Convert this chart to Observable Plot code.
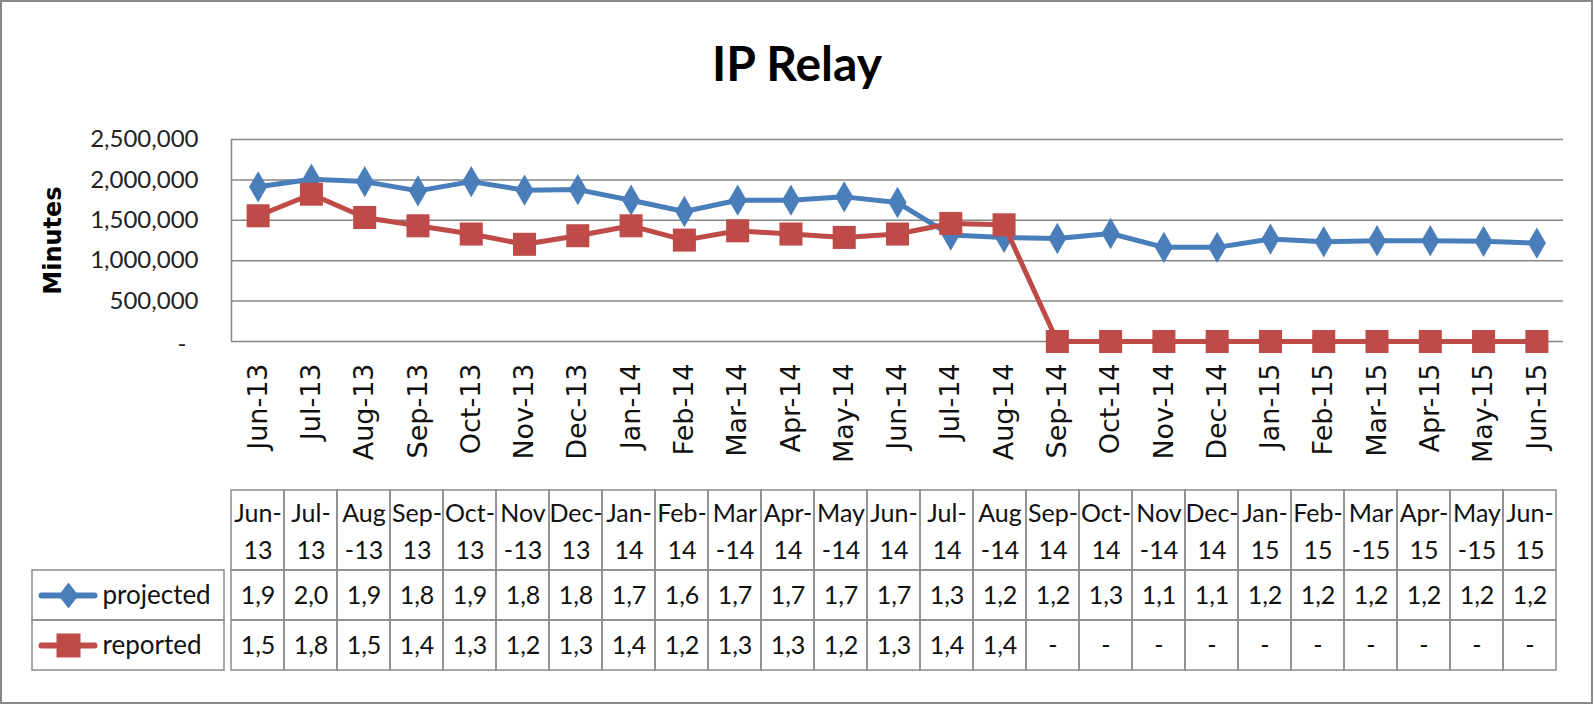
<!DOCTYPE html>
<html>
<head>
<meta charset="utf-8">
<script src="https://cdn.jsdelivr.net/npm/d3@7"></script>
<script src="https://cdn.jsdelivr.net/npm/@observablehq/plot@0.6"></script>
<style>
  body { margin: 0; background: #fff; }
  #root { position: relative; width: 1594px; height: 704px; overflow: hidden; background: #fff; }
  #frame { position: absolute; left: 0; top: 0; width: 1593px; height: 704px; box-sizing: border-box; border: 2.5px solid #888; pointer-events: none; }
  #title { position: absolute; left: 0; top: 39px; width: 1594px; text-align: center; font: bold 48px/48px Lato, sans-serif; color: #000; }
  #root svg { position: absolute; left: 0; }
</style>
</head>
<body>
<div id="root"><div id="frame"></div><div id="title">IP Relay</div></div>
<script>
// ---- data ----
const months = ["Jun-13","Jul-13","Aug-13","Sep-13","Oct-13","Nov-13","Dec-13","Jan-14","Feb-14","Mar-14","Apr-14","May-14","Jun-14","Jul-14","Aug-14","Sep-14","Oct-14","Nov-14","Dec-14","Jan-15","Feb-15","Mar-15","Apr-15","May-15","Jun-15"];
const headerLabels = ["Jun-\n13","Jul-\n13","Aug\n-13","Sep-\n13","Oct-\n13","Nov\n-13","Dec-\n13","Jan-\n14","Feb-\n14","Mar\n-14","Apr-\n14","May\n-14","Jun-\n14","Jul-\n14","Aug\n-14","Sep-\n14","Oct-\n14","Nov\n-14","Dec-\n14","Jan-\n15","Feb-\n15","Mar\n-15","Apr-\n15","May\n-15","Jun-\n15"];
const projected = [1914000, 2009000, 1979000, 1864000, 1979000, 1873000, 1880000, 1749000, 1609000, 1749000, 1749000, 1790000, 1720000, 1317000, 1288000, 1275000, 1337000, 1165000, 1165000, 1268000, 1235000, 1247000, 1247000, 1240000, 1218000];
const reported = [1556000, 1823000, 1535000, 1432000, 1330000, 1203000, 1309000, 1432000, 1255000, 1370000, 1330000, 1288000, 1330000, 1461000, 1444000, 0, 0, 0, 0, 0, 0, 0, 0, 0, 0];
const seriesNames = ["projected", "reported"];
const seriesColors = ["#4A7EBB", "#BE4B48"];
const yTicks = [0, 500000, 1000000, 1500000, 2000000, 2500000];
const yTitle = "Minutes";

// ---- derived tables ----
const projRows = projected.map((v, i) => ({i, v}));
const repRows = reported.map((v, i) => ({i, v}));
const cellText = v => v === 0 ? "-" : d3.format(",")(v).slice(0, 3);
const valueCells = [];
[projected, reported].forEach((arr, s) => arr.forEach((v, i) => valueCells.push({month: months[i], series: seriesNames[s], label: cellText(v)})));

const GRID = "#868686";
const TBL = "#8c8c8c";
const root = document.getElementById("root");

// ---- chart ----
const chart = Plot.plot({
  width: 1594, height: 480,
  marginLeft: 231, marginRight: 31, marginTop: 139, marginBottom: 139,
  style: {background: "transparent", overflow: "visible"},
  x: {domain: [-0.5, months.length - 0.5]},
  y: {domain: [0, 2500000]},
  marks: [
    Plot.ruleY(yTicks, {stroke: GRID, strokeWidth: 1.5}),
    Plot.ruleX([-0.5], {stroke: GRID, strokeWidth: 1.5}),
    Plot.axisY(yTicks.filter(d => d !== 0), {tickSize: 0, tickPadding: 33, tickFormat: d3.format(","), fontSize: 24, fontFamily: "Lato", fill: "#222", label: null}),
    Plot.axisY([0], {tickSize: 0, tickPadding: 45, tickFormat: () => "-", fontSize: 24, fontFamily: "Lato", fill: "#222", dy: 3, label: null}),
    Plot.axisX(d3.range(months.length), {tickSize: 0, tickPadding: 22, tickFormat: i => months[i], rotate: -90, textAnchor: "end", lineAnchor: "middle", fontSize: 27, fontFamily: "DejaVu Sans", fill: "#111", label: null}),
    Plot.text([yTitle], {frameAnchor: "left", dx: -178, rotate: -90, textAnchor: "middle", lineAnchor: "middle", fontSize: 24, fontWeight: "bold", fontFamily: "DejaVu Sans", fill: "#000"}),
    Plot.line(projRows, {x: "i", y: "v", stroke: seriesColors[0], strokeWidth: 5}),
    Plot.dot(projRows, {x: "i", y: "v", symbol: "diamond", r: 9.5, fill: seriesColors[0]}),
    Plot.line(repRows, {x: "i", y: "v", stroke: seriesColors[1], strokeWidth: 5}),
    Plot.dot(repRows, {x: "i", y: "v", symbol: "square", r: 13, fill: seriesColors[1]})
  ]
});
chart.style.top = "0px";
root.append(chart);

// ---- data table ----
const rowKeys = ["header", ...seriesNames];
const table = Plot.plot({
  width: 1594, height: 230,
  marginLeft: 224, marginRight: 31, marginTop: 49, marginBottom: 30,
  style: {background: "transparent"},
  x: {type: "band", domain: months, padding: 0, axis: null},
  y: {type: "band", domain: rowKeys, padding: 0, axis: null},
  marks: [
    Plot.cell(months, {x: d => d, y: () => "header", insetTop: -30, stroke: TBL, strokeWidth: 1.5, fill: "none"}),
    Plot.cell(valueCells, {x: "month", y: "series", stroke: TBL, strokeWidth: 1.5, fill: "none"}),
    Plot.text(months, {x: d => d, y: () => "header", text: (d, i) => headerLabels[i], lineHeight: 1.5, fontSize: 25, fontFamily: "Lato", fill: "#111", dy: -17}),
    Plot.text(valueCells, {x: "month", y: "series", text: "label", fontSize: 25, fontFamily: "Lato", fill: "#111"})
  ]
});
table.style.top = "470px";
root.append(table);

// ---- legend column of the table ----
function legendSymbol(kind) {
  return {
    draw(ctx) {
      ctx.moveTo(-27, -3); ctx.lineTo(26, -3);
      ctx.arc(26, 0, 3, -Math.PI / 2, Math.PI / 2);
      ctx.lineTo(-27, 3);
      ctx.arc(-27, 0, 3, Math.PI / 2, 3 * Math.PI / 2);
      ctx.closePath();
      if (kind === "diamond") {
        ctx.moveTo(0, -13); ctx.lineTo(10, 0); ctx.lineTo(0, 13); ctx.lineTo(-10, 0); ctx.closePath();
      } else {
        ctx.moveTo(-12, -12); ctx.lineTo(12, -12); ctx.lineTo(12, 12); ctx.lineTo(-12, 12); ctx.closePath();
      }
    }
  };
}
const legend = Plot.plot({
  width: 225, height: 230,
  marginLeft: 32, marginRight: 1, marginTop: 49, marginBottom: 30,
  style: {background: "transparent"},
  y: {type: "band", domain: rowKeys, padding: 0, axis: null},
  marks: [
    Plot.cell(seriesNames, {y: d => d, stroke: TBL, strokeWidth: 1.5, fill: "none"}),
    Plot.dot([seriesNames[0]], {y: d => d, frameAnchor: "left", dx: 36, symbol: legendSymbol("diamond"), fill: seriesColors[0]}),
    Plot.dot([seriesNames[1]], {y: d => d, frameAnchor: "left", dx: 36, symbol: legendSymbol("square"), fill: seriesColors[1]}),
    Plot.text(seriesNames, {y: d => d, frameAnchor: "left", dx: 70, textAnchor: "start", fontSize: 26, fontFamily: "Lato", fill: "#111"})
  ]
});
legend.style.top = "470px";
root.append(legend);
</script>
</body>
</html>
